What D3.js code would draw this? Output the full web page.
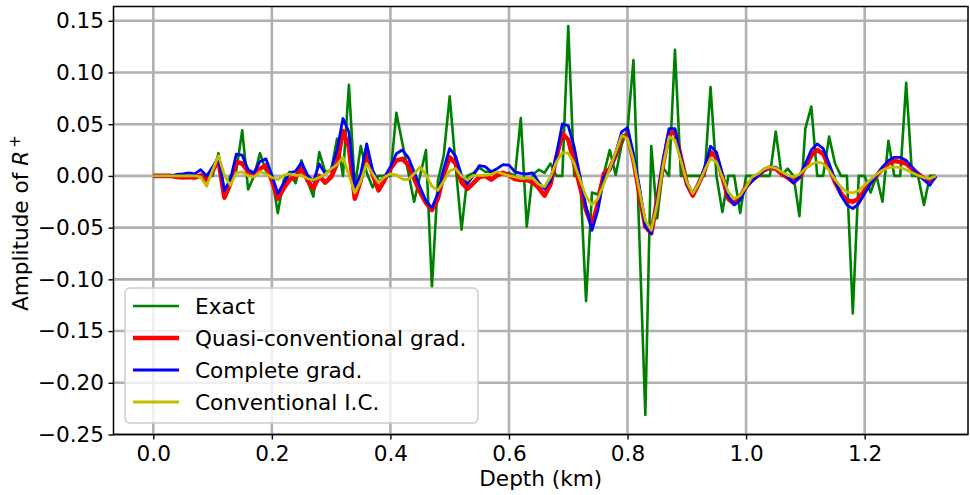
<!DOCTYPE html>
<html>
<head>
<meta charset="utf-8">
<script src="https://cdn.jsdelivr.net/npm/d3@7"></script>
<style>
  html, body { margin: 0; padding: 0; background: #fff; }
  svg { display: block; font-family: "DejaVu Sans", sans-serif; }
</style>
</head>
<body>
<svg id="chart" width="970" height="495"></svg>
<script>
// Sampling depths (km), one trace sample every 10 m
const depth = [
  0.00,0.01,0.02,0.03,0.04,0.05,0.06,0.07,0.08,0.09,
  0.10,0.11,0.12,0.13,0.14,0.15,0.16,0.17,0.18,0.19,
  0.20,0.21,0.22,0.23,0.24,0.25,0.26,0.27,0.28,0.29,
  0.30,0.31,0.32,0.33,0.34,0.35,0.36,0.37,0.38,0.39,
  0.40,0.41,0.42,0.43,0.44,0.45,0.46,0.47,0.48,0.49,
  0.50,0.51,0.52,0.53,0.54,0.55,0.56,0.57,0.58,0.59,
  0.60,0.61,0.62,0.63,0.64,0.65,0.66,0.67,0.68,0.69,
  0.70,0.71,0.72,0.73,0.74,0.75,0.76,0.77,0.78,0.79,
  0.80,0.81,0.82,0.83,0.84,0.85,0.86,0.87,0.88,0.89,
  0.90,0.91,0.92,0.93,0.94,0.95,0.96,0.97,0.98,0.99,
  1.00,1.01,1.02,1.03,1.04,1.05,1.06,1.07,1.08,1.09,
  1.10,1.11,1.12,1.13,1.14,1.15,1.16,1.17,1.18,1.19,
  1.20,1.21,1.22,1.23,1.24,1.25,1.26,1.27,1.28,1.29,
  1.30,1.31,1.32
];

// True reflectivity
const exact = [
  0,0,0,0,0,0,0,0,0,0,
  0,0.022,-0.018,0,0.005,0.044,-0.013,0,0.022,0.005,
  0,-0.036,-0.004,0.004,-0.007,0.015,-0.005,-0.020,0.023,0.004,
  0.005,0.036,0.0,0.088,-0.011,0.029,0.003,-0.011,0.0,0.0,
  0.0,0.061,0.032,0.004,-0.025,0.0,0.025,-0.108,-0.005,0.020,
  0.077,0.010,-0.052,0,0.003,0.008,0.004,0.004,0.002,0.002,
  0.003,0,0.056,-0.049,0.001,0.006,0.003,0.012,0,0,
  0.145,0,0,-0.121,-0.016,-0.018,0.002,0.025,0.001,0.030,
  0.045,0.112,-0.060,-0.231,0.029,-0.041,0.008,0,0.122,0,
  0,0,0,0,0.086,0,-0.035,0,0,-0.036,
  0,0,0,0,0,0.043,0,0.007,0,-0.039,
  0.046,0.067,0,0,0.038,0.012,0,0,-0.133,0,
  0,-0.016,0,-0.025,0.034,0,0,0.090,0,0,
  -0.028,0,0
];

// Inversion with the quasi-conventional gradient
const quasiGrad = [
  0,0,0,0,-0.001,-0.0015,-0.001,-0.0015,0.0005,-0.004,
  0.0055,0.015,-0.021,-0.0075,0.0135,0.012,0.004,0.0005,0.007,0.010,
  -0.004,-0.022,-0.012,-0.0035,-0.001,0.007,-0.004,-0.012,0.0,-0.0065,
  -0.001,0.012,0.0435,0.028,-0.022,-0.004,0.023,0.002,-0.014,-0.004,
  0.007,0.015,0.0165,0.011,-0.0025,-0.0155,-0.026,-0.033,-0.022,0.002,
  0.018,0.012,-0.006,-0.0125,-0.007,-0.001,0.0,-0.0035,0.0005,0.003,
  0.0005,-0.003,-0.004,-0.004,-0.006,-0.0115,-0.019,-0.008,0.018,0.041,
  0.035,0.012,-0.0105,-0.033,-0.048,-0.027,0.002,0.007,0.020,0.038,
  0.039,0.015,-0.017,-0.049,-0.0555,-0.0235,0.012,0.041,0.0425,0.018,
  -0.0075,-0.019,-0.0075,0.0055,0.023,0.018,-0.001,-0.022,-0.027,-0.020,
  -0.0105,-0.004,0.0005,0.0055,0.008,0.007,0.002,-0.0015,-0.006,-0.001,
  0.0085,0.020,0.025,0.0215,0.0085,-0.006,-0.017,-0.0235,-0.025,-0.022,
  -0.014,-0.006,0.0005,0.007,0.012,0.0145,0.0135,0.012,0.007,0.002,
  -0.0025,-0.006,0
];

// Inversion with the complete gradient
const completeGrad = [
  0,0,0,0,0.0015,0.002,0.003,0.002,0.006,0.0,
  0.0085,0.018,-0.014,-0.004,0.021,0.020,0.006,0.003,0.014,0.0165,
  0.001,-0.017,-0.007,0.003,0.0045,0.013,0.001,-0.005,0.0115,0.002,
  0.006,0.025,0.0555,0.0425,-0.0105,0.002,0.031,0.0055,-0.006,-0.001,
  0.0085,0.0215,0.025,0.018,0.004,-0.011,-0.024,-0.031,-0.017,0.007,
  0.0265,0.019,0.0005,-0.0075,0.0005,0.010,0.009,0.004,0.007,0.011,
  0.0105,0.004,0.0025,0.002,0.003,-0.006,-0.0125,-0.005,0.0205,0.0503,
  0.0485,0.028,-0.001,-0.030,-0.0526,-0.033,-0.001,0.0055,0.0215,0.0426,
  0.0468,0.0215,-0.0105,-0.049,-0.0558,-0.0235,0.015,0.0458,0.0458,0.018,
  -0.0075,-0.017,-0.0075,0.0085,0.0287,0.023,0.002,-0.020,-0.028,-0.0235,
  -0.0105,-0.005,0.0005,0.0055,0.0085,0.0085,0.004,-0.001,-0.0068,-0.001,
  0.012,0.025,0.031,0.0265,0.012,-0.004,-0.0187,-0.028,-0.0316,-0.0268,
  -0.017,-0.0075,0.0005,0.0085,0.015,0.018,0.018,0.015,0.0085,0.002,
  -0.004,-0.009,0
];

// Conventional imaging condition
const conventionalIC = [
  0,0,0,0,0,0,0,0,-0.001,-0.010,
  0.0055,0.0195,0.0005,-0.009,0.003,0.004,0.0,-0.001,0.004,0.002,
  -0.0015,-0.0035,0.0005,0.002,0.0005,0.0005,-0.0025,-0.004,-0.0015,0.0015,
  0.007,0.011,0.018,0.001,-0.0165,-0.005,0.012,0.002,-0.0065,-0.001,
  0.002,0.001,-0.003,-0.0035,0.002,0.0087,0.001,-0.010,-0.014,-0.005,
  0.005,0.007,0.0,-0.004,0.0005,0.0005,0.0005,0.0015,0.004,0.002,
  0.0,-0.001,-0.0025,-0.002,-0.002,-0.008,-0.0105,-0.001,0.0135,0.0225,
  0.022,0.012,-0.004,-0.020,-0.028,-0.022,-0.0075,0.007,0.023,0.039,
  0.036,0.015,-0.014,-0.043,-0.0526,-0.027,0.0103,0.038,0.0345,0.015,
  -0.006,-0.017,-0.0075,0.0055,0.0168,0.0135,-0.001,-0.0155,-0.022,-0.019,
  -0.0105,-0.001,0.002,0.0065,0.0087,0.0077,0.004,0.0006,-0.001,0.0016,
  0.007,0.011,0.0135,0.012,0.0055,-0.0035,-0.0106,-0.0155,-0.0165,-0.014,
  -0.009,-0.0035,0.0016,0.0055,0.008,0.0087,0.008,0.006,0.003,0.0006,
  -0.0016,-0.0026,0
];

const xTicks = [0.0, 0.2, 0.4, 0.6, 0.8, 1.0, 1.2];
const yTicks = [-0.25, -0.20, -0.15, -0.10, -0.05, 0.00, 0.05, 0.10, 0.15];
const xLimits = [-0.0671, 1.3743];
const yLimits = [-0.25, 0.1638];

const seriesNames = ["Exact", "Quasi-conventional grad.", "Complete grad.", "Conventional I.C."];
const seriesValues = [exact, quasiGrad, completeGrad, conventionalIC];
const seriesColors = ["#008000", "#ff0000", "#0000ff", "#bfbf00"];
const seriesWidths = [2.6, 4.6, 2.8, 2.8];

const FONT = "21.6px";
const svg = d3.select("#chart");
const plot = { left: 113.5, right: 968, top: 6.5, bottom: 434.5 };

const x = d3.scaleLinear().domain(xLimits).range([plot.left, plot.right]);
const y = d3.scaleLinear().domain(yLimits).range([plot.bottom, plot.top]);

// grid
const grid = svg.append("g").attr("class", "grid");
grid.selectAll("line.vx").data(xTicks).join("line")
  .attr("x1", d => x(d)).attr("x2", d => x(d))
  .attr("y1", plot.top).attr("y2", plot.bottom)
  .attr("stroke", "#b0b0b0").attr("stroke-width", 2.6);
grid.selectAll("line.hy").data(yTicks).join("line")
  .attr("x1", plot.left).attr("x2", plot.right)
  .attr("y1", d => y(d)).attr("y2", d => y(d))
  .attr("stroke", "#b0b0b0").attr("stroke-width", 2.6);

// data lines
svg.append("clipPath").attr("id", "plotclip").append("rect")
  .attr("x", plot.left).attr("y", plot.top)
  .attr("width", plot.right - plot.left).attr("height", plot.bottom - plot.top);

const lineGen = d3.line().x(d => x(d[0])).y(d => y(d[1]));
const linesG = svg.append("g").attr("clip-path", "url(#plotclip)");
seriesValues.forEach((vals, k) => {
  linesG.append("path")
    .datum(depth.map((z, i) => [z, vals[i]]))
    .attr("fill", "none")
    .attr("stroke", seriesColors[k])
    .attr("stroke-width", seriesWidths[k])
    .attr("stroke-linejoin", "round")
    .attr("stroke-linecap", "butt")
    .attr("d", lineGen);
});

// axes (true minus sign on negative labels)
const withMinus = f => d => f(d).replace(/^[-\u2212]/, "\u2212");
const fmtX = withMinus(d3.format(".1f"));
const fmtY = withMinus(d3.format(".2f"));
const xAxis = svg.append("g")
  .attr("transform", `translate(0,${plot.bottom})`)
  .call(d3.axisBottom(x).tickValues(xTicks).tickFormat(fmtX).tickSize(5).tickPadding(6).tickSizeOuter(0));
const yAxis = svg.append("g")
  .attr("transform", `translate(${plot.left},0)`)
  .call(d3.axisLeft(y).tickValues(yTicks).tickFormat(fmtY).tickSize(5).tickPadding(4.5).tickSizeOuter(0));
[xAxis, yAxis].forEach(g => {
  g.select(".domain").remove();
  g.selectAll(".tick line").attr("stroke", "#000").attr("stroke-width", 1.4);
  g.selectAll(".tick text").attr("fill", "#000").style("font-size", FONT)
    .style("font-family", "'DejaVu Sans', sans-serif");
});

// frame
svg.append("rect")
  .attr("x", plot.left).attr("y", plot.top)
  .attr("width", plot.right - plot.left).attr("height", plot.bottom - plot.top)
  .attr("fill", "none").attr("stroke", "#000").attr("stroke-width", 1.5);

// axis titles
svg.append("text")
  .attr("x", (plot.left + plot.right) / 2).attr("y", 486)
  .attr("text-anchor", "middle").style("font-size", FONT).attr("fill", "#000")
  .text("Depth (km)");

const yTitle = svg.append("text")
  .attr("transform", `translate(28,311) rotate(-90)`)
  .attr("text-anchor", "start").style("font-size", FONT).attr("fill", "#000");
yTitle.append("tspan").text("Amplitude of ");
yTitle.append("tspan").style("font-style", "italic").text("R");
yTitle.append("tspan").attr("dy", -8).style("font-size", "15px").text("\u2009+");

// legend
const legend = svg.append("g");
legend.append("rect")
  .attr("x", 125).attr("y", 288).attr("width", 353).attr("height", 135)
  .attr("rx", 5).attr("fill", "#fff").attr("fill-opacity", 0.8)
  .attr("stroke", "#cccccc").attr("stroke-width", 1.5);
seriesNames.forEach((name, k) => {
  const yy = 306 + k * 32;
  legend.append("line")
    .attr("x1", 133).attr("x2", 179).attr("y1", yy).attr("y2", yy)
    .attr("stroke", seriesColors[k]).attr("stroke-width", seriesWidths[k]);
  legend.append("text")
    .attr("x", 195).attr("y", yy + 7.5)
    .style("font-size", FONT).attr("fill", "#000")
    .text(name);
});
</script>
</body>
</html>
